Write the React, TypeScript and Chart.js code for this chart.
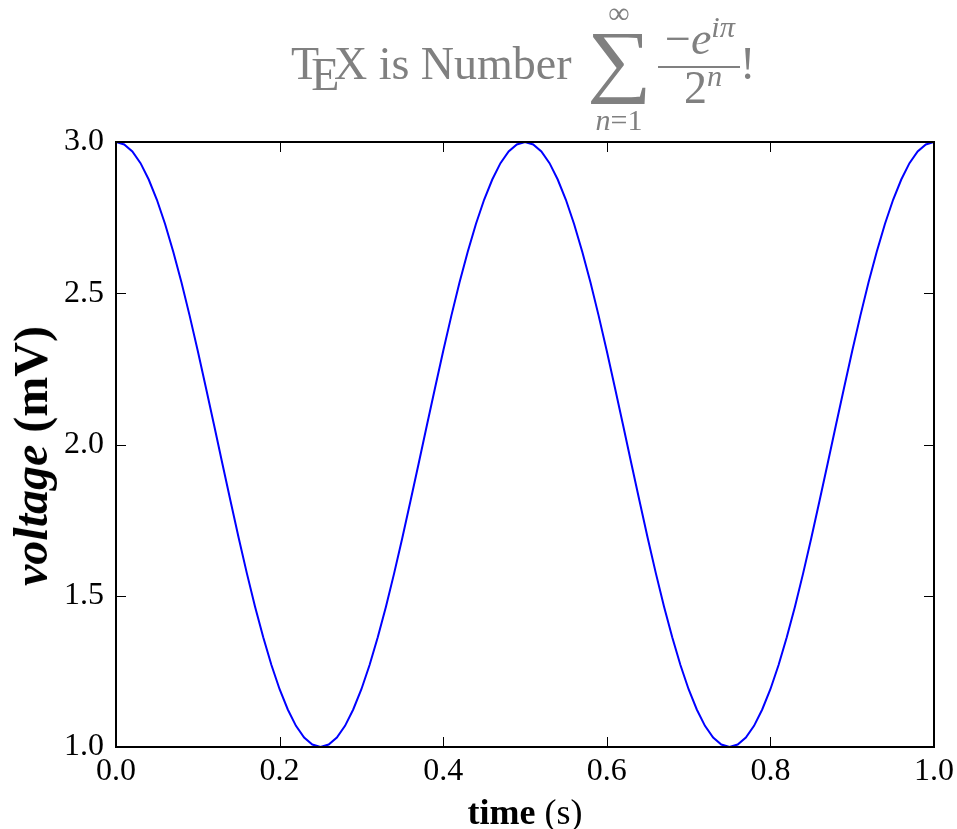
import React, { useEffect, useRef } from "react";
import { Chart, registerables } from "chart.js";

Chart.register(...registerables);

const timeValues = [
  0.0, 0.01, 0.02, 0.03, 0.04, 0.05, 0.06, 0.07, 0.08, 0.09,
  0.1, 0.11, 0.12, 0.13, 0.14, 0.15, 0.16, 0.17, 0.18, 0.19,
  0.2, 0.21, 0.22, 0.23, 0.24, 0.25, 0.26, 0.27, 0.28, 0.29,
  0.3, 0.31, 0.32, 0.33, 0.34, 0.35, 0.36, 0.37, 0.38, 0.39,
  0.4, 0.41, 0.42, 0.43, 0.44, 0.45, 0.46, 0.47, 0.48, 0.49,
  0.5, 0.51, 0.52, 0.53, 0.54, 0.55, 0.56, 0.57, 0.58, 0.59,
  0.6, 0.61, 0.62, 0.63, 0.64, 0.65, 0.66, 0.67, 0.68, 0.69,
  0.7, 0.71, 0.72, 0.73, 0.74, 0.75, 0.76, 0.77, 0.78, 0.79,
  0.8, 0.81, 0.82, 0.83, 0.84, 0.85, 0.86, 0.87, 0.88, 0.89,
  0.9, 0.91, 0.92, 0.93, 0.94, 0.95, 0.96, 0.97, 0.98, 0.99,
  1.0,
];

const voltageValues = [
  3.0, 2.992, 2.969, 2.93, 2.876, 2.809, 2.729, 2.637, 2.536, 2.426,
  2.309, 2.187, 2.063, 1.937, 1.813, 1.691, 1.574, 1.464, 1.363, 1.271,
  1.191, 1.124, 1.07, 1.031, 1.008, 1.0, 1.008, 1.031, 1.07, 1.124,
  1.191, 1.271, 1.363, 1.464, 1.574, 1.691, 1.813, 1.937, 2.063, 2.187,
  2.309, 2.426, 2.536, 2.637, 2.729, 2.809, 2.876, 2.93, 2.969, 2.992,
  3.0, 2.992, 2.969, 2.93, 2.876, 2.809, 2.729, 2.637, 2.536, 2.426,
  2.309, 2.187, 2.063, 1.937, 1.813, 1.691, 1.574, 1.464, 1.363, 1.271,
  1.191, 1.124, 1.07, 1.031, 1.008, 1.0, 1.008, 1.031, 1.07, 1.124,
  1.191, 1.271, 1.363, 1.464, 1.574, 1.691, 1.813, 1.937, 2.063, 2.187,
  2.309, 2.426, 2.536, 2.637, 2.729, 2.809, 2.876, 2.93, 2.969, 2.992,
  3.0,
];

const xTicks = [0.0, 0.2, 0.4, 0.6, 0.8, 1.0];
const yTicks = [1.0, 1.5, 2.0, 2.5, 3.0];

const FONT = "'Liberation Serif', 'DejaVu Serif', serif";
const GRAY = "#808080";

const framePlugin = {
  id: "frameTicks",
  afterDraw(chart: any) {
    const { ctx, chartArea } = chart;
    const { left, right, top, bottom } = chartArea;
    const xs = chart.scales.x;
    const ys = chart.scales.y;
    const len = 10;
    ctx.save();
    ctx.strokeStyle = "#000";
    ctx.lineWidth = 1;
    ctx.beginPath();
    xTicks.forEach((v) => {
      const px = Math.round(xs.getPixelForValue(v)) + 0.5;
      ctx.moveTo(px, bottom);
      ctx.lineTo(px, bottom - len);
      ctx.moveTo(px, top);
      ctx.lineTo(px, top + len);
    });
    yTicks.forEach((v) => {
      const py = Math.round(ys.getPixelForValue(v)) + 0.5;
      ctx.moveTo(left, py);
      ctx.lineTo(left + len, py);
      ctx.moveTo(right, py);
      ctx.lineTo(right - len, py);
    });
    ctx.stroke();
    ctx.lineWidth = 2;
    ctx.strokeRect(left, top, right - left, bottom - top);
    ctx.restore();
  },
};

function Abs({ x, y, size, children, style, center }: any) {
  // x = left edge (or center if center), y = baseline
  return (
    <div
      style={{
        position: "absolute",
        left: x,
        top: y - 0.8375 * size,
        fontSize: size,
        lineHeight: 1,
        fontFamily: FONT,
        color: GRAY,
        whiteSpace: "nowrap",
        transform: center ? "translateX(-50%)" : undefined,
        ...style,
      }}
    >
      {children}
    </div>
  );
}

const supStyle: any = { fontSize: "0.66em", verticalAlign: "0.55em", lineHeight: 0 };

export default function App() {
  const canvasRef = useRef<HTMLCanvasElement | null>(null);

  useEffect(() => {
    const canvas = canvasRef.current;
    if (!canvas) return;
    const chart = new Chart(canvas, {
      type: "line",
      data: {
        datasets: [
          {
            data: timeValues.map((t, i) => ({ x: t, y: voltageValues[i] })),
            borderColor: "#0000ff",
            borderWidth: 2,
            pointRadius: 0,
            tension: 0,
            fill: false,
          },
        ],
      },
      options: {
        animation: false,
        responsive: false,
        devicePixelRatio: 1,
        layout: { padding: { left: 0, top: 142, right: 23, bottom: 0 } },
        plugins: {
          legend: { display: false },
          tooltip: { enabled: false },
          title: { display: false },
        },
        scales: {
          x: {
            type: "linear",
            min: 0,
            max: 1,
            afterFit: (s: any) => {
              s.height = 82;
            },
            afterBuildTicks: (s: any) => {
              s.ticks = xTicks.map((v) => ({ value: v }));
            },
            grid: { display: false, drawTicks: false },
            border: { display: false },
            ticks: {
              padding: 0,
              maxRotation: 0,
              color: "#000",
              font: { family: FONT, size: 32, lineHeight: "50px" },
              callback: (v: any) => Number(v).toFixed(1),
            },
          },
          y: {
            type: "linear",
            min: 1,
            max: 3,
            afterFit: (s: any) => {
              s.width = 116;
            },
            afterBuildTicks: (s: any) => {
              s.ticks = yTicks.map((v) => ({ value: v }));
            },
            grid: { display: false, drawTicks: false },
            border: { display: false },
            ticks: {
              padding: 12,
              color: "#000",
              font: { family: FONT, size: 32 },
              callback: (v: any) => Number(v).toFixed(1),
            },
          },
        },
      },
      plugins: [framePlugin],
    });
    return () => chart.destroy();
  }, []);

  return (
    <div
      style={{
        position: "absolute",
        left: 0,
        top: 0,
        width: 957,
        height: 829,
        background: "#fff",
        overflow: "hidden",
      }}
    >
      <canvas
        ref={canvasRef}
        width={957}
        height={829}
        style={{ position: "absolute", left: 0, top: 0, width: 957, height: 829 }}
      />

      {/* Title: TeX is Number sum_{n=1}^{inf} (-e^{i pi})/(2^n)! */}
      <Abs x={291} y={80} size={46}>
        T
        <span style={{ position: "relative", top: "0.22em", marginLeft: "-0.17em" }}>E</span>
        <span style={{ marginLeft: "-0.12em" }}>X</span> is Number
      </Abs>
      <Abs x={619} y={23} size={30} center>∞</Abs>
      <Abs
        x={619}
        y={88}
        size={81}
        style={{ transform: "translateX(-50%) scaleX(1.12)" }}
      >
        ∑
      </Abs>
      <Abs x={619} y={130} size={30} center>
        <i>n</i>=1
      </Abs>
      <Abs x={700} y={55} size={46} center>
        −<i>e</i>
        <sup style={supStyle}>
          <i>iπ</i>
        </sup>
      </Abs>
      <div
        style={{
          position: "absolute",
          left: 658,
          top: 66,
          width: 82,
          height: 2,
          background: GRAY,
        }}
      />
      <Abs x={703} y={104} size={46} center>
        2
        <sup style={supStyle}>
          <i>n</i>
        </sup>
      </Abs>
      <Abs x={740} y={80} size={46}>!</Abs>

      {/* Y axis label */}
      <div
        style={{
          position: "absolute",
          left: 31,
          top: 456,
          transform: "translate(-50%, -50%) rotate(-90deg)",
          fontFamily: FONT,
          fontSize: 48,
          lineHeight: 1,
          color: "#000",
          whiteSpace: "nowrap",
        }}
      >
        <b>
          <i>voltage</i> (mV)
        </b>
      </div>

      {/* X axis label */}
      <div
        style={{
          position: "absolute",
          left: 525,
          top: 812,
          transform: "translate(-50%, -50%)",
          fontFamily: FONT,
          fontSize: 36,
          lineHeight: 1,
          color: "#000",
          whiteSpace: "nowrap",
        }}
      >
        <b>time</b> (s)
      </div>
    </div>
  );
}
